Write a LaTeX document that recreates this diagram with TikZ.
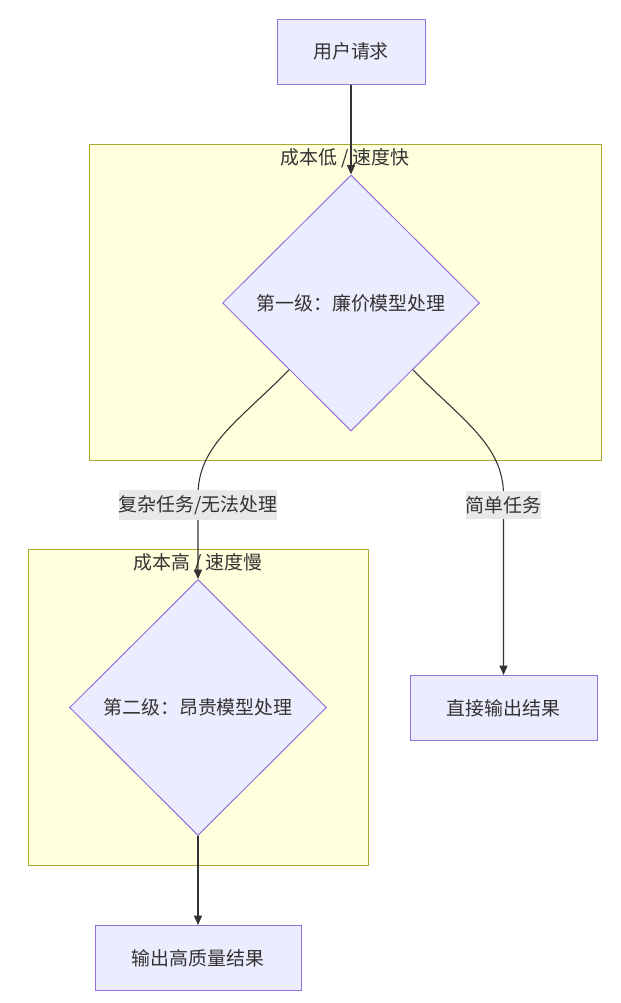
\documentclass[tikz,border=0pt]{standalone}
\usepackage{fontspec}
\setmainfont{Noto Sans CJK SC}
\usepackage{tikz}
\usetikzlibrary{calc,
                shapes.geometric,
                arrows.meta
                }

\definecolor{knotenfill}{HTML}{ECECFF}
\definecolor{knotenrand}{HTML}{9370DB}
\definecolor{gruppefill}{HTML}{FFFFDE}
\definecolor{grupperand}{HTML}{AAAA33}
\definecolor{schrift}{HTML}{333333}
\definecolor{labelbg}{HTML}{E8E8E8}

\begin{document}
\begin{tikzpicture}[x=0.75pt, y=-0.75pt,
    font=\fontsize{14.2pt}{16pt}\selectfont,
    kasten/.style={draw=knotenrand, fill=knotenfill, line width=0.75pt,
                   text=schrift, minimum height=48.75pt, inner sep=0pt},
    raute/.style={diamond, draw=knotenrand, fill=knotenfill, line width=0.75pt,
                  text=schrift, minimum width=192.75pt, minimum height=192pt, inner sep=0pt},
    gruppe/.style={draw=grupperand, fill=gruppefill, line width=0.75pt},
    titel/.style={text=schrift, inner sep=0pt},
    kante/.style={draw=schrift, line width=0.8pt,
                  -{Triangle[length=7pt, width=6pt]}},
    kantenlabel/.style={fill=labelbg, text=schrift, inner xsep=0pt, inner ysep=4pt}
    ]
    % Rahmen des Bildes
    \useasboundingbox (0,0) rectangle (621,1003);

    % Gruppen (Hintergrund)
    \draw[gruppe] (89,144) rectangle (601,460);
    \draw[gruppe] (28,549) rectangle (368,865);
    \node[titel] (tlow) at (345,158) {成本低 / 速度快};
    \node[titel] (thigh) at (198,563) {成本高 / 速度慢};

    % Knoten
    \node[kasten, minimum width=111pt] (anfrage) at (351,51.5) {用户请求};
    \node[raute] (stufe1) at (351,303) {第一级：廉价模型处理};
    \node[raute] (stufe2) at (198,707.5) {第二级：昂贵模型处理};
    \node[kasten, minimum width=140.25pt] (direkt) at (503.5,708) {直接输出结果};
    \node[kasten, minimum width=154.5pt] (ergebnis) at (198,958) {输出高质量结果};

    % Abzweigpunkte an der Raute
    \coordinate (abl) at ($(stufe1.west)!0.52!(stufe1.south)$);
    \coordinate (abr) at ($(stufe1.east)!0.52!(stufe1.south)$);

    % Kanten
    \draw[kante] (anfrage) -- (stufe1.north);
    \draw[kante] (abl) .. controls (240,420) and (198,445) .. (198,495) -- (stufe2.north);
    \draw[kante] (abr) .. controls (462,420) and (503.5,445) .. (503.5,495) -- (direkt.north);
    \draw[kante] (stufe2.south) -- (ergebnis.north);

    % Kantenbeschriftungen
    \node[kantenlabel] (lkomplex) at (198,505) {复杂任务/无法处理};
    \node[kantenlabel] (leinfach) at (503.5,505) {简单任务};
\end{tikzpicture}
\end{document}
